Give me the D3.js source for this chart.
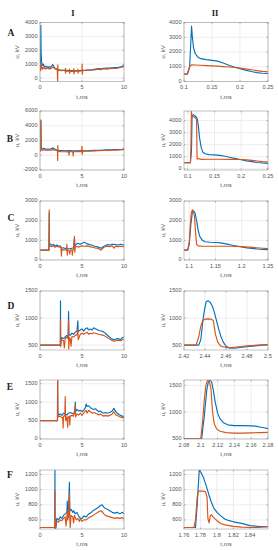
<!DOCTYPE html>
<html><head><meta charset="utf-8">
<script src="https://cdn.jsdelivr.net/npm/d3@7"></script>
<style>body{margin:0;background:#fff}svg{display:block}</style>
</head><body>
<svg id="c" width="278" height="550"></svg>
<script>
// ---------- DATA ----------
const rowLabels = ["A","B","C","D","E","F"];
const colLabels = ["I","II"];
const xLabel = "t,ms";
const yLabel = "u, kV";

const A1_blue = [[0,500],[0.05,600],[0.08,1500],[0.1,3800],[0.13,2000],[0.18,1200],[0.25,1000],[0.35,900],[0.4,1000],[0.5,850],[0.6,800],[0.7,850],[0.8,780],[0.9,820],[1.0,770],[1.1,820],[1.2,750],[1.3,820],[1.4,880],[1.5,960],[1.6,900],[1.7,760],[1.8,700],[1.9,650],[2.0,620],[2.2,600],[2.5,580],[2.8,560],[3.0,550],[3.3,560],[3.6,530],[4.0,540],[4.3,520],[4.6,530],[5.0,560],[5.3,540],[5.6,570],[6.0,590],[6.3,610],[6.6,640],[7.0,680],[7.3,660],[7.6,700],[8.0,720],[8.3,710],[8.6,740],[9.0,760],[9.3,750],[9.6,800],[9.8,850],[10,920]];
const A1_orange = [[0,500],[0.05,550],[0.08,900],[0.12,1150],[0.15,700],[0.2,900],[0.25,600],[0.3,750],[0.4,700],[0.5,760],[0.6,650],[0.7,710],[0.8,670],[0.9,740],[1.0,690],[1.1,640],[1.2,710],[1.3,670],[1.4,740],[1.5,790],[1.6,770],[1.7,700],[1.8,650],[1.9,680],[2.05,650],[2.1,-250],[2.12,950],[2.15,500],[2.2,600],[2.4,550],[2.6,520],[2.8,560],[3.0,500],[3.02,700],[3.04,350],[3.1,520],[3.4,500],[3.5,480],[3.52,650],[3.54,330],[3.6,500],[4.0,480],[4.02,680],[4.04,300],[4.1,500],[4.5,520],[4.52,650],[4.54,350],[4.6,500],[4.9,520],[5.0,530],[5.02,1000],[5.04,280],[5.1,550],[5.4,560],[5.8,580],[6.0,560],[6.3,600],[6.5,580],[6.8,620],[7.0,640],[7.2,600],[7.5,650],[7.8,660],[8.0,640],[8.3,680],[8.6,700],[9.0,690],[9.3,720],[9.6,760],[10,820]];

const A2_blue = [[0.1,500],[0.106,500],[0.108,700],[0.11,1000],[0.112,2500],[0.1135,3750],[0.115,3000],[0.117,2300],[0.12,1900],[0.125,1650],[0.13,1550],[0.14,1480],[0.15,1430],[0.16,1380],[0.17,1250],[0.18,1100],[0.19,980],[0.2,870],[0.21,770],[0.22,680],[0.23,600],[0.24,560],[0.25,540]];
const A2_orange = [[0.1,500],[0.106,500],[0.108,800],[0.11,1000],[0.113,1130],[0.12,1120],[0.13,1100],[0.14,1080],[0.15,1060],[0.16,1040],[0.17,1010],[0.18,980],[0.19,950],[0.2,910],[0.21,860],[0.22,800],[0.23,740],[0.24,690],[0.25,650]];

const B1_blue = [[0,500],[0.05,700],[0.1,4700],[0.14,1500],[0.2,800],[0.3,850],[0.4,900],[0.5,950],[0.6,800],[0.8,850],[1.0,800],[1.2,850],[1.4,900],[1.5,1000],[1.6,950],[1.8,800],[2.0,700],[2.3,650],[2.6,640],[3.0,600],[3.5,620],[4.0,590],[4.5,600],[5.0,620],[5.5,610],[6.0,640],[6.5,660],[7.0,680],[7.5,700],[8.0,720],[8.5,740],[9.0,760],[9.5,780],[9.8,820],[10,900]];
const B1_orange = [[0,500],[0.05,600],[0.08,3000],[0.1,4800],[0.12,2000],[0.14,800],[0.2,700],[0.3,650],[0.5,750],[0.7,700],[1.0,720],[1.3,680],[1.5,760],[1.7,720],[2.0,650],[2.08,600],[2.1,-700],[2.12,1300],[2.15,400],[2.2,550],[2.5,500],[3.0,480],[3.4,450],[3.45,0],[3.5,500],[3.9,480],[3.95,-100],[4.0,500],[4.5,520],[4.95,500],[5.0,1200],[5.03,100],[5.1,550],[5.5,540],[6.0,560],[6.5,600],[7.0,620],[7.5,640],[8.0,660],[8.5,680],[9.0,700],[9.5,720],[10,760]];

const B2_blue = [[0.093,500],[0.105,500],[0.107,1500],[0.108,4300],[0.11,4500],[0.113,4400],[0.116,4300],[0.118,4100],[0.12,3500],[0.122,2600],[0.125,1800],[0.128,1400],[0.132,1250],[0.14,1180],[0.15,1160],[0.16,1120],[0.17,1040],[0.18,940],[0.19,840],[0.2,750],[0.21,660],[0.22,590],[0.23,520],[0.24,480],[0.25,450]];
const B2_orange = [[0.093,500],[0.105,500],[0.106,2000],[0.1068,4800],[0.108,4400],[0.111,4300],[0.114,4250],[0.1165,4100],[0.1175,800],[0.119,850],[0.125,780],[0.14,790],[0.16,790],[0.18,780],[0.2,770],[0.21,740],[0.22,700],[0.23,650],[0.24,600],[0.25,560]];

const C1_blue = [[0,500],[1.05,500],[1.1,2400],[1.13,900],[1.2,800],[1.4,750],[1.6,800],[1.8,700],[2.0,760],[2.2,700],[2.4,720],[2.5,650],[2.6,600],[2.8,620],[3.0,580],[3.2,600],[3.4,560],[3.6,580],[3.8,600],[4.0,620],[4.1,1100],[4.15,700],[4.3,800],[4.5,850],[4.8,800],[5.0,850],[5.3,900],[5.6,820],[5.9,780],[6.2,750],[6.5,700],[6.8,680],[7.0,640],[7.3,600],[7.6,700],[8.0,780],[8.3,760],[8.6,800],[9.0,780],[9.3,760],[9.6,800],[10,760]];
const C1_orange = [[0,500],[1.08,500],[1.1,2550],[1.12,800],[1.2,700],[1.4,680],[1.6,720],[1.8,650],[2.0,700],[2.2,660],[2.4,680],[2.5,600],[2.55,200],[2.6,550],[2.8,500],[3.0,520],[3.15,500],[3.2,800],[3.25,250],[3.3,500],[3.5,450],[3.55,300],[3.6,480],[3.8,520],[3.85,250],[3.9,500],[4.0,520],[4.1,1200],[4.15,400],[4.2,650],[4.4,700],[4.6,650],[4.8,700],[5.0,720],[5.3,700],[5.6,720],[5.9,680],[6.2,650],[6.5,620],[6.8,600],[7.0,580],[7.2,500],[7.4,560],[7.6,650],[8.0,700],[8.3,680],[8.6,720],[8.8,600],[9.0,700],[9.3,680],[9.6,700],[10,680]];

const C2_blue = [[1.09,500],[1.097,500],[1.1,800],[1.103,1800],[1.106,2450],[1.108,2500],[1.111,2400],[1.114,2000],[1.117,1500],[1.12,1200],[1.125,1000],[1.13,930],[1.14,900],[1.15,890],[1.16,870],[1.17,820],[1.18,760],[1.19,710],[1.2,660],[1.21,620],[1.22,590],[1.23,560],[1.24,540],[1.25,530]];
const C2_orange = [[1.09,500],[1.097,500],[1.1,900],[1.102,1800],[1.104,2400],[1.106,2550],[1.108,2500],[1.11,2200],[1.112,1400],[1.114,800],[1.117,720],[1.125,700],[1.14,700],[1.16,700],[1.18,700],[1.2,680],[1.22,640],[1.24,600],[1.25,580]];

const D1_blue = [[0,500],[2.42,500],[2.44,1320],[2.46,500],[2.5,600],[2.6,640],[2.8,620],[3.0,650],[3.2,680],[3.35,650],[3.4,1120],[3.45,700],[3.6,680],[3.8,720],[4.0,700],[4.2,740],[4.4,760],[4.5,950],[4.55,750],[4.8,780],[5.0,800],[5.2,760],[5.4,800],[5.6,820],[5.8,780],[6.0,800],[6.2,780],[6.4,820],[6.6,800],[6.8,790],[7.0,770],[7.3,760],[7.6,740],[7.9,700],[8.2,660],[8.5,620],[8.8,600],[9.0,610],[9.3,620],[9.6,600],[9.8,640],[10,650]];
const D1_orange = [[0,500],[2.43,500],[2.44,980],[2.46,470],[2.5,560],[2.6,600],[2.8,580],[2.9,450],[3.0,620],[3.2,640],[3.35,620],[3.4,950],[3.42,430],[3.5,640],[3.6,620],[3.7,480],[3.8,660],[4.0,650],[4.2,680],[4.4,690],[4.5,800],[4.55,600],[4.8,700],[5.0,720],[5.2,700],[5.4,720],[5.6,740],[5.8,700],[6.0,720],[6.2,710],[6.4,730],[6.6,720],[6.8,710],[7.0,700],[7.3,690],[7.6,680],[7.9,650],[8.2,620],[8.5,590],[8.8,570],[9.0,580],[9.3,590],[9.6,580],[9.8,600],[10,610]];

const D2_blue = [[2.42,500],[2.434,500],[2.436,600],[2.438,950],[2.4395,1150],[2.441,1300],[2.443,1320],[2.445,1290],[2.447,1220],[2.449,1100],[2.451,950],[2.453,800],[2.455,670],[2.457,570],[2.46,480],[2.463,450],[2.466,445],[2.47,450],[2.475,460],[2.48,470],[2.485,480],[2.49,490],[2.495,500],[2.5,510]];
const D2_orange = [[2.42,500],[2.4315,500],[2.434,650],[2.436,850],[2.438,960],[2.44,980],[2.443,985],[2.446,980],[2.448,950],[2.45,700],[2.452,560],[2.455,480],[2.46,455],[2.465,455],[2.47,465],[2.475,475],[2.48,485],[2.49,500],[2.5,510]];

const E1_blue = [[0,500],[2.08,500],[2.1,1600],[2.13,700],[2.2,650],[2.4,680],[2.6,640],[2.8,700],[3.0,680],[3.2,650],[3.4,700],[3.6,720],[3.8,700],[4.0,680],[4.15,720],[4.2,1000],[4.25,750],[4.4,800],[4.6,760],[4.8,780],[5.0,740],[5.2,780],[5.4,850],[5.5,950],[5.6,880],[5.8,900],[6.0,850],[6.2,820],[6.4,800],[6.6,820],[6.8,780],[7.0,740],[7.2,760],[7.4,720],[7.6,700],[7.8,720],[8.0,700],[8.3,720],[8.6,760],[8.8,830],[9.0,750],[9.2,700],[9.5,650],[9.8,620],[10,600]];
const E1_orange = [[0,500],[2.08,500],[2.1,1600],[2.12,650],[2.2,600],[2.4,620],[2.6,580],[2.7,580],[2.75,300],[2.8,620],[2.95,620],[3.0,1150],[3.05,500],[3.2,600],[3.3,320],[3.35,600],[3.5,620],[3.55,380],[3.6,620],[3.8,640],[4.0,620],[4.2,900],[4.25,600],[4.4,680],[4.6,650],[4.8,700],[5.0,640],[5.2,700],[5.5,780],[5.6,700],[5.8,780],[6.0,740],[6.2,700],[6.4,720],[6.6,700],[6.8,680],[7.0,650],[7.2,680],[7.4,640],[7.6,620],[7.8,640],[8.0,620],[8.3,640],[8.6,680],[8.8,740],[9.0,660],[9.2,640],[9.5,600],[9.8,580],[10,570]];

const E2_blue = [[2.08,500],[2.101,500],[2.104,900],[2.107,1400],[2.109,1570],[2.111,1600],[2.113,1560],[2.115,1400],[2.117,1200],[2.12,980],[2.123,870],[2.127,800],[2.132,760],[2.14,745],[2.15,745],[2.16,740],[2.165,735],[2.17,720],[2.175,705],[2.18,690]];
const E2_orange = [[2.08,500],[2.1,500],[2.102,800],[2.104,1200],[2.106,1500],[2.108,1590],[2.11,1580],[2.112,1450],[2.114,1000],[2.116,780],[2.119,680],[2.123,640],[2.13,615],[2.14,605],[2.15,605],[2.16,610],[2.17,615],[2.18,620]];

const F1_blue = [[0,500],[1.76,500],[1.78,1300],[1.8,480],[1.9,500],[2.0,620],[2.2,600],[2.4,640],[2.6,620],[2.8,660],[3.0,680],[3.2,700],[3.25,850],[3.3,680],[3.4,720],[3.5,1100],[3.55,720],[3.7,740],[3.9,700],[4.0,720],[4.2,680],[4.4,700],[4.6,650],[4.8,620],[5.0,620],[5.2,650],[5.5,640],[5.8,680],[6.0,690],[6.3,720],[6.6,740],[6.9,760],[7.2,790],[7.4,800],[7.6,770],[7.8,750],[8.0,740],[8.3,720],[8.6,700],[8.9,690],[9.2,700],[9.5,680],[9.8,700],[10,680]];
const F1_orange = [[0,500],[1.76,500],[1.78,980],[1.8,500],[1.85,470],[1.9,560],[2.0,580],[2.2,570],[2.4,600],[2.6,590],[2.8,620],[3.0,640],[3.1,520],[3.2,640],[3.25,720],[3.3,600],[3.4,650],[3.5,950],[3.55,600],[3.6,500],[3.7,660],[3.9,640],[4.0,560],[4.1,660],[4.3,600],[4.5,620],[4.7,580],[4.8,620],[5.0,580],[5.2,600],[5.5,600],[5.8,630],[6.0,640],[6.3,660],[6.6,680],[6.9,700],[7.2,720],[7.4,710],[7.6,680],[7.8,660],[8.0,650],[8.3,640],[8.6,630],[8.9,620],[9.2,630],[9.5,620],[9.8,630],[10,620]];

const F2_blue = [[1.76,500],[1.774,500],[1.776,800],[1.7785,1260],[1.781,1220],[1.784,1150],[1.787,1050],[1.79,940],[1.793,840],[1.796,760],[1.8,700],[1.805,650],[1.81,610],[1.815,590],[1.82,575],[1.83,555],[1.84,525],[1.85,515],[1.862,510]];
const F2_orange = [[1.76,500],[1.772,500],[1.774,600],[1.776,900],[1.7775,980],[1.782,980],[1.786,975],[1.788,900],[1.789,620],[1.7905,560],[1.792,660],[1.7935,670],[1.795,640],[1.8,590],[1.805,550],[1.81,535],[1.82,515],[1.83,505],[1.84,500],[1.85,500],[1.862,510]];

// axis settings (domains & tick values)
const xTicksI = [0,5,10];
const panels = [
 {r:0,c:0,xd:[0,10],xt:xTicksI,yd:[-250,4000],yt:[0,1000,2000,3000,4000],b:A1_blue,o:A1_orange},
 {r:0,c:1,xd:[0.1,0.25],xt:[0.1,0.15,0.2,0.25],yd:[0,4000],yt:[0,1000,2000,3000,4000],b:A2_blue,o:A2_orange},
 {r:1,c:0,xd:[0,10],xt:xTicksI,yd:[-2000,6000],yt:[-2000,0,2000,4000,6000],b:B1_blue,o:B1_orange},
 {r:1,c:1,xd:[0.093,0.25],xt:[0.1,0.15,0.2,0.25],yd:[-100,4800],yt:[0,1000,2000,3000,4000],b:B2_blue,o:B2_orange},
 {r:2,c:0,xd:[0,10],xt:xTicksI,yd:[0,3000],yt:[0,1000,2000,3000],b:C1_blue,o:C1_orange},
 {r:2,c:1,xd:[1.09,1.25],xt:[1.1,1.15,1.2,1.25],yd:[0,3000],yt:[0,1000,2000,3000],b:C2_blue,o:C2_orange},
 {r:3,c:0,xd:[0,10],xt:xTicksI,yd:[410,1500],yt:[500,1000,1500],b:D1_blue,o:D1_orange},
 {r:3,c:1,xd:[2.42,2.5],xt:[2.42,2.44,2.46,2.48,2.5],yd:[410,1500],yt:[500,1000,1500],b:D2_blue,o:D2_orange},
 {r:4,c:0,xd:[0,10],xt:xTicksI,yd:[0,1600],yt:[0,500,1000,1500],b:E1_blue,o:E1_orange},
 {r:4,c:1,xd:[2.08,2.18],xt:[2.08,2.1,2.12,2.14,2.16,2.18],yd:[495,1600],yt:[500,1000,1500],b:E2_blue,o:E2_orange},
 {r:5,c:0,xd:[0,10],xt:xTicksI,yd:[480,1260],yt:[600,800,1000,1200],b:F1_blue,o:F1_orange},
 {r:5,c:1,xd:[1.76,1.862],xt:[1.76,1.78,1.8,1.82,1.84],yd:[480,1260],yt:[600,800,1000,1200],b:F2_blue,o:F2_orange}
];

// ---------- LAYOUT ----------
const colLeft = [40, 184], boxW = 84;
const rowTop = [22.5, 111, 201, 291, 380, 470], boxH = 59;
const rowLabelPos = [[11,34],[10,140],[11,219],[11,307],[10,388],[10,476]];
const colTitlePos = [[73,14],[215,14]];
const blue = "#0072BD", orange = "#D95319";

const svg = d3.select("#c");
const font = "'Liberation Sans', Arial, sans-serif";

colLabels.forEach((t,i)=>svg.append("text").attr("x",colTitlePos[i][0]).attr("y",colTitlePos[i][1])
  .attr("text-anchor","middle").attr("dominant-baseline","middle")
  .attr("font-family","'Liberation Serif', serif").attr("font-weight","bold").attr("font-size",8.5).attr("fill","#222").text(t));
rowLabels.forEach((t,i)=>svg.append("text").attr("x",rowLabelPos[i][0]).attr("y",rowLabelPos[i][1])
  .attr("text-anchor","middle").attr("dominant-baseline","middle")
  .attr("font-family","'Liberation Serif', serif").attr("font-weight","bold").attr("font-size",9.5).attr("fill","#222").text(t));

panels.forEach((p,k)=>{
  const L = colLeft[p.c], T = rowTop[p.r];
  const x = d3.scaleLinear().domain(p.xd).range([L, L+boxW]);
  const y = d3.scaleLinear().domain(p.yd).range([T+boxH, T]);
  const g = svg.append("g");
  g.selectAll(null).data(p.xt).join("line").attr("x1",d=>x(d)).attr("x2",d=>x(d)).attr("y1",T).attr("y2",T+boxH)
    .attr("stroke","#e3e3e3").attr("stroke-width",0.6);
  g.selectAll(null).data(p.yt).join("line").attr("x1",L).attr("x2",L+boxW).attr("y1",d=>y(d)).attr("y2",d=>y(d))
    .attr("stroke","#e3e3e3").attr("stroke-width",0.6);
  const cid = "clip"+k;
  svg.append("clipPath").attr("id",cid).append("rect").attr("x",L).attr("y",T).attr("width",boxW).attr("height",boxH);
  const line = d3.line().x(d=>x(d[0])).y(d=>y(d[1]));
  const lg = g.append("g").attr("clip-path",`url(#${cid})`);
  lg.append("path").attr("d",line(p.b)).attr("fill","none").attr("stroke",blue).attr("stroke-width",1.15).attr("stroke-linejoin","round");
  lg.append("path").attr("d",line(p.o)).attr("fill","none").attr("stroke",orange).attr("stroke-width",1.15).attr("stroke-linejoin","round");
  g.append("rect").attr("x",L).attr("y",T).attr("width",boxW).attr("height",boxH).attr("fill","none").attr("stroke","#9a9a9a").attr("stroke-width",0.6);
  const tl = 1.5;
  p.xt.forEach(v=>{
    g.append("line").attr("x1",x(v)).attr("x2",x(v)).attr("y1",T+boxH).attr("y2",T+boxH-tl).attr("stroke","#777").attr("stroke-width",0.5);
    g.append("line").attr("x1",x(v)).attr("x2",x(v)).attr("y1",T).attr("y2",T+tl).attr("stroke","#777").attr("stroke-width",0.5);
  });
  p.yt.forEach(v=>{
    g.append("line").attr("x1",L).attr("x2",L+tl).attr("y1",y(v)).attr("y2",y(v)).attr("stroke","#777").attr("stroke-width",0.5);
    g.append("line").attr("x1",L+boxW).attr("x2",L+boxW-tl).attr("y1",y(v)).attr("y2",y(v)).attr("stroke","#777").attr("stroke-width",0.5);
  });
  g.selectAll(null).data(p.xt).join("text").attr("x",d=>x(d)).attr("y",T+boxH+6.5)
    .attr("text-anchor","middle").attr("dominant-baseline","middle")
    .attr("font-family",font).attr("font-size",5.6).attr("fill","#555").text(d=>String(d));
  g.selectAll(null).data(p.yt).join("text").attr("x",L-2.5).attr("y",d=>y(d))
    .attr("text-anchor","end").attr("dominant-baseline","middle")
    .attr("font-family",font).attr("font-size",5.6).attr("fill","#555").text(d=>String(d));
  g.append("text").attr("x",L+boxW/2).attr("y",T+boxH+15.5).attr("text-anchor","middle").attr("dominant-baseline","middle")
    .attr("font-family",font).attr("font-size",6).attr("fill","#555").text(xLabel);
  const yx = p.c===0 ? 17 : 163;
  g.append("text").attr("transform",`translate(${yx},${T+boxH/2}) rotate(-90)`).attr("text-anchor","middle").attr("dominant-baseline","middle")
    .attr("font-family",font).attr("font-size",6).attr("fill","#555").text(yLabel);
});
</script>
</body></html>
